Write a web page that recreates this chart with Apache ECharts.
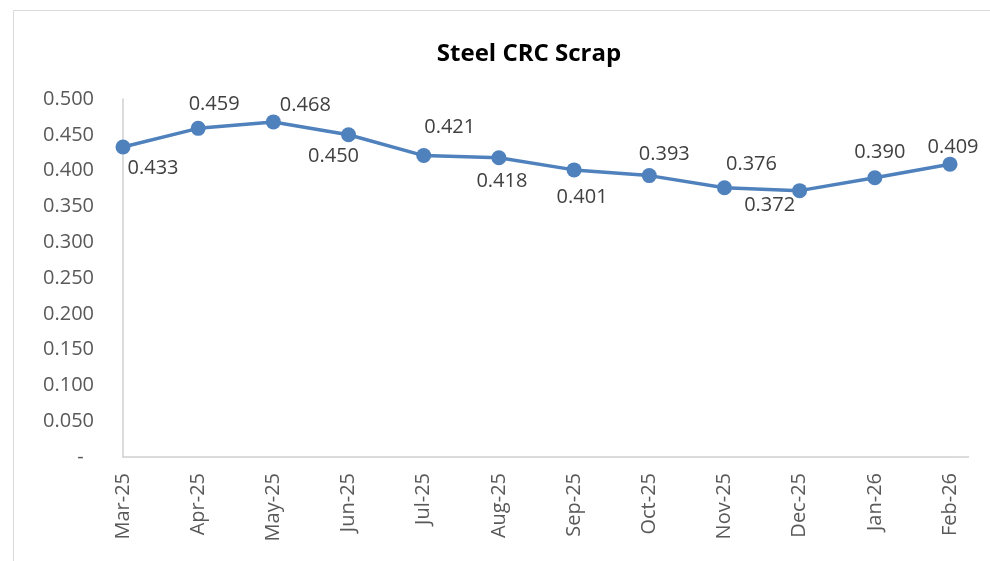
<!DOCTYPE html>
<html>
<head>
<meta charset="utf-8">
<script src="https://cdn.jsdelivr.net/npm/echarts@6/dist/echarts.min.js"></script>
<style>
  html, body { margin: 0; padding: 0; background: #fff; }
  #chart { width: 990px; height: 561px; }
</style>
</head>
<body>
<div id="chart"></div>
<script>
const months = ['Mar-25', 'Apr-25', 'May-25', 'Jun-25', 'Jul-25', 'Aug-25',
  'Sep-25', 'Oct-25', 'Nov-25', 'Dec-25', 'Jan-26', 'Feb-26']
const scrapPrice = [0.433, 0.459, 0.468, 0.450, 0.421, 0.418,
  0.401, 0.393, 0.376, 0.372, 0.390, 0.409]
// where each value label sits, relative to its point (px)
const labelShift = [[30, 21], [16, -24], [32, -17], [-15, 21], [26, -28], [3, 24],
  [8, 27], [15, -21], [27, -23], [-30, 15], [5, -25], [3, -17]]

const font = '"Open Sans", sans-serif'
const chart = echarts.init(document.getElementById('chart'))

chart.setOption({
  animation: false,
  title: {
    text: 'Steel CRC Scrap',
    left: 524,
    textAlign: 'center',
    top: 37,
    textStyle: { fontFamily: font, fontSize: 24, fontWeight: 'bold', color: '#000' }
  },
  graphic: [
    {
      type: 'rect',
      shape: { x: 13.5, y: 10.5, width: 1000, height: 600 },
      style: { fill: 'none', stroke: '#d9d9d9', lineWidth: 1 }
    },
    {
      // the category axis runs a little past the last month
      type: 'line',
      shape: { x1: 950, y1: 457, x2: 969, y2: 457 },
      style: { stroke: '#d0d0d0', lineWidth: 1.5 }
    }
  ],
  grid: { left: 123, right: 40, top: 99, bottom: 104 },
  xAxis: {
    type: 'category',
    data: months,
    boundaryGap: false,
    axisLine: { lineStyle: { color: '#d0d0d0', width: 1.5 } },
    axisTick: { show: false },
    axisLabel: {
      rotate: 90,
      margin: 16,
      interval: 0,
      fontFamily: font,
      fontSize: 20,
      color: '#595959'
    }
  },
  yAxis: {
    type: 'value',
    min: 0,
    max: 0.5,
    interval: 0.05,
    axisLine: { show: true, lineStyle: { color: '#d0d0d0', width: 1.5 } },
    axisTick: { show: false },
    splitLine: { show: false },
    axisLabel: {
      margin: 29,
      fontFamily: font,
      fontSize: 20,
      color: '#595959',
      formatter: v => v === 0 ? '-  ' : v.toFixed(3)
    }
  },
  series: [{
    type: 'line',
    data: scrapPrice.map((v, i) => ({
      value: v,
      label: { offset: labelShift[i] }
    })),
    symbol: 'circle',
    symbolSize: 15,
    lineStyle: { color: '#4f81bd', width: 3.5 },
    itemStyle: { color: '#4f81bd' },
    label: {
      show: true,
      position: 'inside',
      fontFamily: font,
      fontSize: 20,
      color: '#404040',
      formatter: p => p.value.toFixed(3)
    }
  }]
})
</script>
</body>
</html>
